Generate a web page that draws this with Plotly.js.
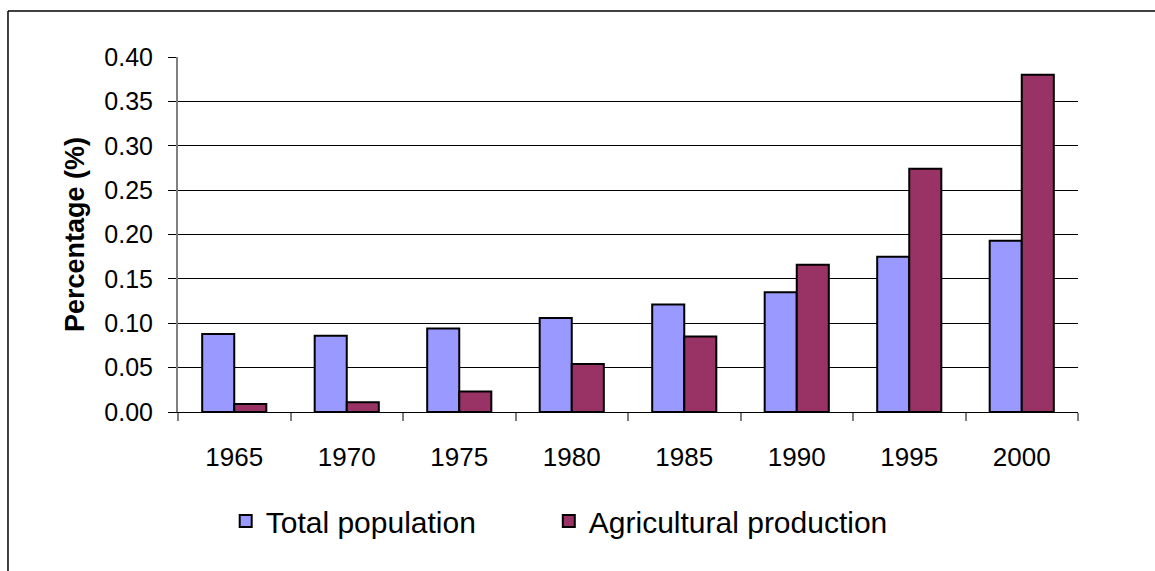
<!DOCTYPE html>
<html>
<head>
<meta charset="utf-8">
<script src="https://cdn.plot.ly/plotly-3.0.1.min.js"></script>
<style>html,body{margin:0;padding:0;background:#fff;}#chart{width:1155px;height:571px;}</style>
</head>
<body>
<div id="chart"></div>
<script>
const years = ["1965","1970","1975","1980","1985","1990","1995","2000"];
const totalPopulation = [0.088, 0.086, 0.094, 0.106, 0.121, 0.135, 0.175, 0.193];
const agriculturalProduction = [0.009, 0.011, 0.023, 0.054, 0.085, 0.166, 0.274, 0.380];
const yTicks = [0, 0.05, 0.10, 0.15, 0.20, 0.25, 0.30, 0.35, 0.40];

const traces = [
  {type:"bar", name:"Total population", x:years, y:totalPopulation, legend:"legend",
   marker:{color:"#9999ff", line:{color:"#000", width:2}}},
  {type:"bar", name:"Agricultural production", x:years, y:agriculturalProduction, legend:"legend2",
   marker:{color:"#993366", line:{color:"#000", width:2}}}
];

const legendCommon = {orientation:"h", xanchor:"left", y:-0.307, yanchor:"middle",
                      font:{size:30}, itemwidth:30, itemsizing:"constant", bgcolor:"rgba(0,0,0,0)"};

const layout = {
  width:1155, height:571,
  paper_bgcolor:"#fff", plot_bgcolor:"#fff",
  margin:{l:178, r:77, t:57, b:159},
  font:{family:"Liberation Sans, Arial, sans-serif", color:"#000"},
  barmode:"group", bargap:0.43, bargroupgap:0,
  showlegend:true,
  legend:Object.assign({}, legendCommon, {x:0.053}),
  legend2:Object.assign({}, legendCommon, {x:0.412}),
  xaxis:{type:"category", showline:true, linecolor:"#000", linewidth:1,
         ticks:"outside", tickson:"boundaries", ticklen:8, tickcolor:"#808080", tickwidth:2,
         tickfont:{size:26}, ticklabelstandoff:22, showgrid:false, zeroline:false, fixedrange:true},
  yaxis:{range:[0,0.40], tickvals:yTicks, tickformat:".2f",
         showline:true, linecolor:"#808080", linewidth:2,
         ticks:"outside", ticklen:8, tickcolor:"#000", tickwidth:1,
         tickfont:{size:25}, ticklabelstandoff:10,
         showgrid:true, gridcolor:"#000", gridwidth:1, zeroline:false,
         title:{text:"<b>Percentage (%)</b>", font:{size:27}, standoff:12}},
  shapes:[
    {type:"line", xref:"paper", yref:"paper", x0:-0.1889, x1:1.2, y0:1.1296, y1:1.1296, line:{color:"#000", width:1.5}},
    {type:"line", xref:"paper", yref:"paper", x0:-0.1889, x1:-0.1889, y0:1.1296, y1:-0.5, line:{color:"#000", width:1.5}}
  ]
};

Plotly.newPlot("chart", traces, layout, {displayModeBar:false, staticPlot:true});
</script>
</body>
</html>
